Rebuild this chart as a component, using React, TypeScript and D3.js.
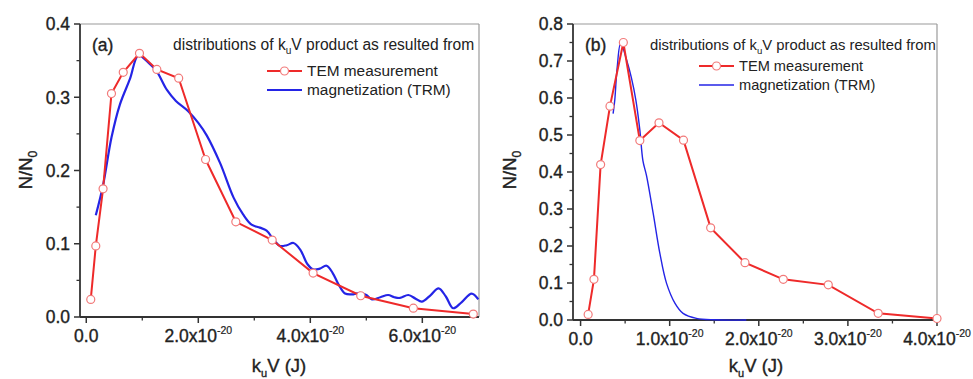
import * as d3 from "d3"

// panel (a): values in units of 1e-20 J
const temAx = [0.08, 0.17, 0.3, 0.45, 0.66, 0.95, 1.26, 1.65, 2.13, 2.67, 3.32, 4.05, 4.9, 5.84, 6.91]
const temAy = [0.024, 0.097, 0.175, 0.305, 0.334, 0.36, 0.338, 0.326, 0.215, 0.13, 0.105, 0.06, 0.029, 0.012, 0.004]
const trmAx = [0.17, 0.3, 0.45, 0.6, 0.78, 0.93, 1.1, 1.26, 1.44, 1.6, 1.82, 2.0, 2.15, 2.39, 2.63, 2.8, 2.95, 3.1, 3.22, 3.35, 3.46, 3.58, 3.7, 3.82, 3.95, 4.05, 4.17, 4.29, 4.4, 4.5, 4.62, 4.77, 4.89, 5.0, 5.1, 5.25, 5.39, 5.5, 5.6, 5.75, 5.88, 5.99, 6.15, 6.29, 6.42, 6.55, 6.7, 6.88, 7.0]
const trmAy = [0.139, 0.18, 0.245, 0.29, 0.325, 0.357, 0.348, 0.335, 0.31, 0.295, 0.281, 0.265, 0.248, 0.21, 0.163, 0.14, 0.126, 0.122, 0.118, 0.105, 0.097, 0.098, 0.101, 0.092, 0.072, 0.065, 0.066, 0.07, 0.06, 0.045, 0.032, 0.031, 0.033, 0.03, 0.024, 0.027, 0.03, 0.027, 0.026, 0.03, 0.025, 0.021, 0.03, 0.039, 0.028, 0.012, 0.02, 0.032, 0.024]

// panel (b)
const temBx = [0.085, 0.15, 0.225, 0.33, 0.48, 0.665, 0.88, 1.155, 1.46, 1.845, 2.275, 2.78, 3.34, 4.0]
const temBy = [0.015, 0.11, 0.42, 0.578, 0.75, 0.485, 0.533, 0.486, 0.249, 0.155, 0.11, 0.095, 0.018, 0.004]
const trmBx = [0.365, 0.384, 0.41, 0.45, 0.52, 0.57, 0.62, 0.665, 0.7, 0.74, 0.815, 0.89, 0.965, 1.06, 1.15, 1.3, 1.5, 1.86]
const trmBy = [0.558, 0.595, 0.68, 0.748, 0.7, 0.655, 0.595, 0.514, 0.43, 0.39, 0.288, 0.18, 0.099, 0.045, 0.018, 0.0045, 0.0005, 0]

const xTicksA = [0, 2, 4, 6]
const xMinorA = [1, 3, 5]
const xTicksB = [0, 1, 2, 3, 4]
const xMinorB = [0.5, 1.5, 2.5, 3.5]
const yTicksA = [0, 0.1, 0.2, 0.3, 0.4]
const yMinorA = [0.05, 0.15, 0.25, 0.35]
const yTicksB = [0, 0.1, 0.2, 0.3, 0.4, 0.5, 0.6, 0.7, 0.8]
const yMinorB = [0.05, 0.15, 0.25, 0.35, 0.45, 0.55, 0.65, 0.75]

const titleText = "distributions of k"
const legendTem = "TEM measurement"
const legendTrm = "magnetization (TRM)"

const RED = "#ee2a2a"
const BLUE = "#2424e6"
const INK = "#222"
const FONT = "'Liberation Sans', Arial, sans-serif"

type PanelProps = {
  tag: string
  x0: number
  x1: number
  y0: number
  y1: number
  xDomain: [number, number]
  yDomain: [number, number]
  xTicks: number[]
  xMinor: number[]
  yTicks: number[]
  yMinor: number[]
  tem: [number[], number[]]
  trm: [number[], number[]]
  trmWidth: number
  titleX: number
  titleSize: number
  legX: number
  legY: number
  legSize: number
  yTitleX: number
  xTitleX: number
}

function Panel(p: PanelProps) {
  const x = d3.scaleLinear().domain(p.xDomain).range([p.x0, p.x1])
  const y = d3.scaleLinear().domain(p.yDomain).range([p.y1, p.y0])
  const temPts = p.tem[0].map((v, i) => [v, p.tem[1][i]] as [number, number])
  const trmPts = p.trm[0].map((v, i) => [v, p.trm[1][i]] as [number, number])
  const line = d3.line<[number, number]>().x((d) => x(d[0])).y((d) => y(d[1]))
  const smooth = d3
    .line<[number, number]>()
    .x((d) => x(d[0]))
    .y((d) => y(d[1]))
    .curve(d3.curveCatmullRom.alpha(0.5))
  const fmt = d3.format(".1f")
  // slight outline so text looks as heavy as the scanned original
  const heavy = { stroke: INK, strokeWidth: 0.35, fill: INK }

  return (
    <g fontFamily={FONT}>
      {/* frame */}
      <line x1={p.x0} x2={p.x1} y1={p.y0} y2={p.y0} stroke="#9a9a9a" strokeWidth={1.2} />
      <line x1={p.x1} x2={p.x1} y1={p.y0} y2={p.y1} stroke="#9a9a9a" strokeWidth={1.2} />
      <line x1={p.x0} x2={p.x1} y1={p.y1} y2={p.y1} stroke="#333" strokeWidth={1.8} />
      <line x1={p.x0} x2={p.x0} y1={p.y0} y2={p.y1} stroke="#333" strokeWidth={1.8} />

      {p.yTicks.map((t) => (
        <g key={"y" + t}>
          <line x1={p.x0 - 6} x2={p.x0} y1={y(t)} y2={y(t)} stroke="#333" strokeWidth={1.5} />
          <text x={p.x0 - 10} y={y(t)} dy="0.36em" textAnchor="end" fontSize={17.5} {...heavy}>
            {fmt(t)}
          </text>
        </g>
      ))}
      {p.yMinor.map((t) => (
        <line key={"ym" + t} x1={p.x0 - 3.5} x2={p.x0} y1={y(t)} y2={y(t)} stroke="#333" strokeWidth={1.3} />
      ))}
      {p.xTicks.map((t) => (
        <g key={"x" + t}>
          <line x1={x(t)} x2={x(t)} y1={p.y1} y2={p.y1 + 6} stroke="#333" strokeWidth={1.5} />
          <text x={x(t)} y={p.y1 + 25} textAnchor="middle" fontSize={17.5} {...heavy}>
            {t === 0 ? (
              "0.0"
            ) : (
              <>
                <tspan>{fmt(t)}x10</tspan>
                <tspan dy={-8} fontSize={10.5} strokeWidth={0.2}>
                  -20
                </tspan>
              </>
            )}
          </text>
        </g>
      ))}
      {p.xMinor.map((t) => (
        <line key={"xm" + t} x1={x(t)} x2={x(t)} y1={p.y1} y2={p.y1 + 3.5} stroke="#333" strokeWidth={1.3} />
      ))}

      {/* axis titles */}
      <text transform={`translate(${p.yTitleX},170) rotate(-90)`} textAnchor="middle" fontSize={18.5} {...heavy}>
        <tspan>N/N</tspan>
        <tspan dy={5} fontSize={12}>
          0
        </tspan>
      </text>
      <text x={p.xTitleX} y={372} textAnchor="middle" fontSize={18.5} {...heavy}>
        <tspan>k</tspan>
        <tspan dy={5} fontSize={11}>
          u
        </tspan>
        <tspan dy={-5}>V (J)</tspan>
      </text>

      {/* data */}
      <path d={smooth(trmPts) || ""} fill="none" stroke={BLUE} strokeWidth={p.trmWidth} />
      <path d={line(temPts) || ""} fill="none" stroke={RED} strokeWidth={2} />
      {temPts.map((d, i) => (
        <circle key={i} cx={x(d[0])} cy={y(d[1])} r={4} fill="#fff" stroke="#f27a7a" strokeWidth={1.2} />
      ))}

      {/* annotations */}
      <text x={p.x0 + 12} y={51} fontSize={17.5} {...heavy}>
        {p.tag}
      </text>
      <text x={p.titleX} y={50} fontSize={p.titleSize} fill={INK}>
        <tspan>{titleText}</tspan>
        <tspan dy={4} fontSize={p.titleSize * 0.65}>
          u
        </tspan>
        <tspan dy={-4}>V product as resulted from</tspan>
      </text>
      <line x1={p.legX} x2={p.legX + 35} y1={p.legY} y2={p.legY} stroke={RED} strokeWidth={2} />
      <circle cx={p.legX + 17.5} cy={p.legY} r={4} fill="#fff" stroke="#f27a7a" strokeWidth={1.2} />
      <text x={p.legX + 40} y={p.legY + 5} fontSize={p.legSize} fill={INK}>
        {legendTem}
      </text>
      <line x1={p.legX} x2={p.legX + 35} y1={p.legY + 19} y2={p.legY + 19} stroke={BLUE} strokeWidth={p.trmWidth} />
      <text x={p.legX + 40} y={p.legY + 24} fontSize={p.legSize} fill={INK}>
        {legendTrm}
      </text>
    </g>
  )
}

export default function App() {
  return (
    <svg
      width={973}
      height={379}
      style={{ position: "absolute", left: 0, top: 0, background: "#fff", display: "block" }}
    >
      <Panel
        tag="(a)"
        x0={80}
        x1={479}
        y0={24}
        y1={317}
        xDomain={[-0.112, 7.012]}
        yDomain={[0, 0.4]}
        xTicks={xTicksA}
        xMinor={xMinorA}
        yTicks={yTicksA}
        yMinor={yMinorA}
        tem={[temAx, temAy]}
        trm={[trmAx, trmAy]}
        trmWidth={2.2}
        titleX={173}
        titleSize={15.6}
        legX={267}
        legY={71}
        legSize={15.4}
        yTitleX={32}
        xTitleX={279}
      />
      <Panel
        tag="(b)"
        x0={573}
        x1={937}
        y0={24}
        y1={320}
        xDomain={[-0.085, 4.0]}
        yDomain={[0, 0.8]}
        xTicks={xTicksB}
        xMinor={xMinorB}
        yTicks={yTicksB}
        yMinor={yMinorB}
        tem={[temBx, temBy]}
        trm={[trmBx, trmBy]}
        trmWidth={1.4}
        titleX={650}
        titleSize={14.8}
        legX={699}
        legY={66}
        legSize={14.6}
        yTitleX={516}
        xTitleX={756}
      />
    </svg>
  )
}
